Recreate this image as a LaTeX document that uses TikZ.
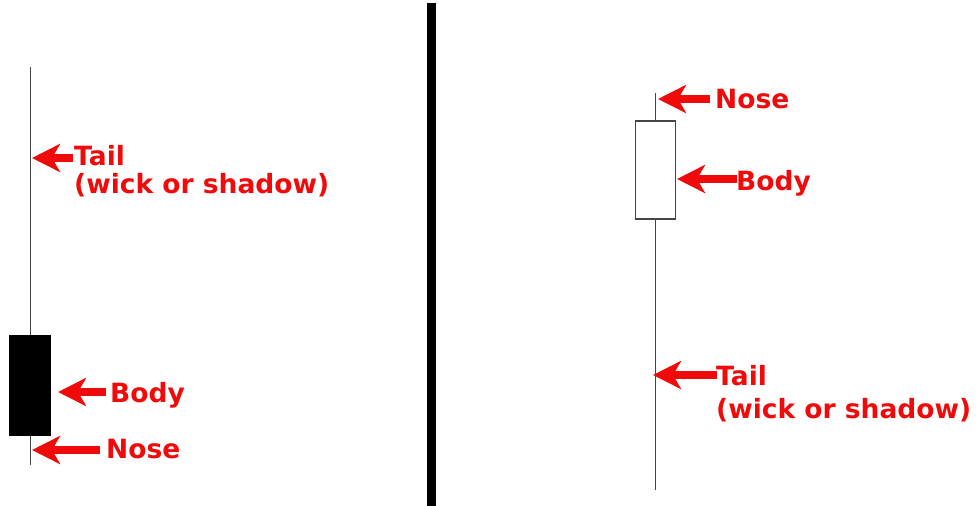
\documentclass[tikz,border=0pt]{standalone}
\usepackage{fontspec}
\setmainfont{DejaVu Sans}
\usetikzlibrary{arrows.meta}
\definecolor{lblred}{RGB}{240,10,10}
\definecolor{wickgray}{RGB}{70,70,70}
\begin{document}
\begin{tikzpicture}[x=1pt,y=-1pt,
  wick/.style={draw=wickgray,line width=1.6pt},
  lbl/.style={text=lblred,font=\fontsize{26.5}{30}\selectfont\bfseries,inner sep=0pt,anchor=base west},
  arr/.style={draw=lblred,line width=7.5pt,-{Stealth[length=28pt,width=28pt,inset=8pt]}},
  bodybox/.style={minimum width=41pt,minimum height=100pt,inner sep=0pt,outer sep=0pt}]
\useasboundingbox (0,0) rectangle (978,506);
\fill[white] (0,0) rectangle (978,506);
% divider
\coordinate (divtop) at (431.5,3);
\coordinate (divbot) at (431.5,506);
\draw[line width=9pt,black] (divtop) -- (divbot);
% left candle
\coordinate (wLtop) at (30.5,67);
\coordinate (wLbot) at (30.5,465);
\draw[wick] (wLtop) -- (wLbot);
\node[bodybox,fill=black,minimum width=42pt,minimum height=101pt] (bodyL) at (30,385.5) {};
% right candle
\coordinate (wRtop) at (655.5,93);
\coordinate (wRbot) at (655.5,490);
\draw[wick] (wRtop) -- (wRbot);
\node[bodybox,draw=wickgray,line width=1.5pt,fill=white,minimum width=40pt,minimum height=98pt] (bodyR) at (655.5,170) {};
% tips
\coordinate (tipTL) at (32,158);
\coordinate (tipBL) at (58,392);
\coordinate (tipNL) at (32,450);
\coordinate (tipNR) at (658,99);
\coordinate (tipBR) at (677,179);
\coordinate (tipTR) at (653,375);
% labels
\node[lbl] (tailL) at (74,165) {Tail};
\node[lbl] (tailLsub) at (74,193) {(wick or shadow)};
\node[lbl] (bodyLl) at (110,402) {Body};
\node[lbl] (noseLl) at (106,458) {Nose};
\node[lbl] (noseRl) at (715,108) {Nose};
\node[lbl] (bodyRl) at (736,190) {Body};
\node[lbl] (tailR) at (716,385) {Tail};
\node[lbl] (tailRsub) at (716,418) {(wick or shadow)};
% arrows
\draw[arr] ([xshift=-1pt]tailL.west |- tipTL) -- (tipTL);
\draw[arr] ([xshift=-4pt]bodyLl.west |- tipBL) -- (tipBL);
\draw[arr] ([xshift=-6pt]noseLl.west |- tipNL) -- (tipNL);
\draw[arr] ([xshift=-5pt]noseRl.west |- tipNR) -- (tipNR);
\draw[arr] ([xshift=1pt]bodyRl.west |- tipBR) -- (tipBR);
\draw[arr] ([xshift=1pt]tailR.west |- tipTR) -- (tipTR);
\end{tikzpicture}
\end{document}
